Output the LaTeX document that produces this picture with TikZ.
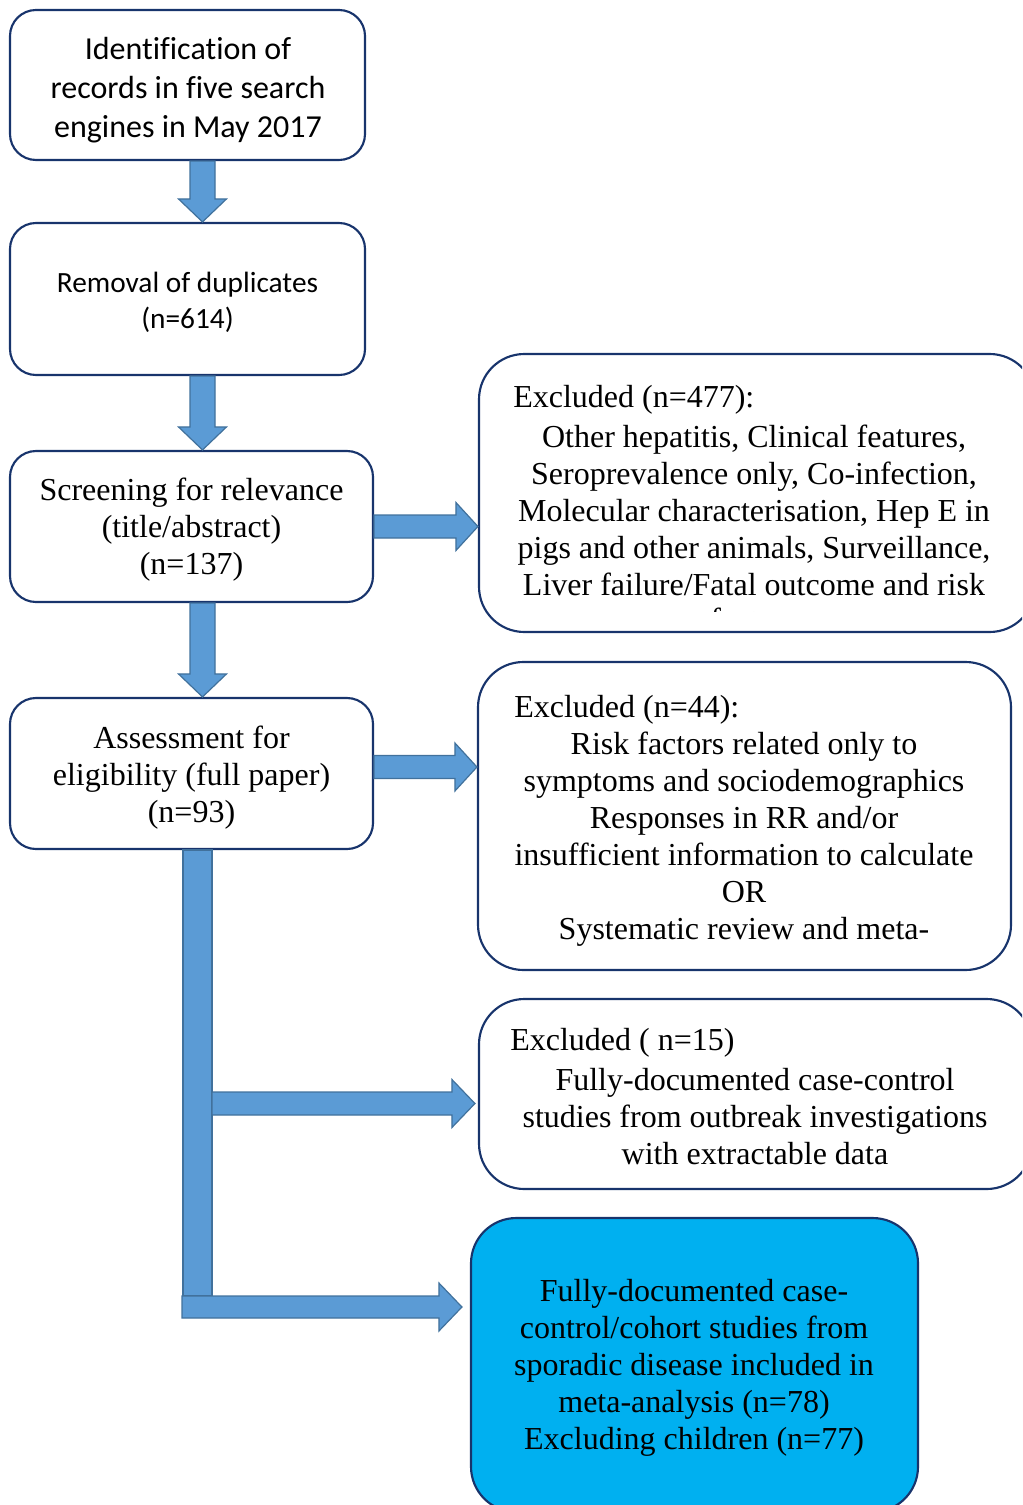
\documentclass[tikz,border=0pt]{standalone}
\usepackage{fontspec}
\setmainfont{Liberation Serif}
\newfontfamily\calfont[Ligatures=NoCommon]{Carlito}
\usetikzlibrary{calc}
\definecolor{navy}{RGB}{24,52,108}
\definecolor{arrowfill}{HTML}{5B9BD5}
\definecolor{arrowedge}{HTML}{41719C}
\definecolor{cyanfill}{HTML}{00B0F0}
\tikzset{
  box/.style={draw=navy, line width=1.6pt, fill=white, rounded corners=19.5pt, inner sep=0pt},
  bigbox/.style={box, rounded corners=34pt},
  blk/.style={fill=arrowfill, draw=arrowedge, line width=0.9pt, line join=miter},
  tnr/.style={font=\fontsize{24}{27.75}\selectfont, align=center, inner sep=0pt},
  cal/.style={font=\calfont\fontsize{24}{29.25}\selectfont, align=center, inner sep=0pt},
  calsmall/.style={font=\calfont\fontsize{22}{27}\selectfont, align=center, inner sep=0pt},
  lft/.style={font=\fontsize{24}{27.75}\selectfont, anchor=west, inner sep=0pt}
}
\newcommand\vblk[2]{%
  \filldraw[blk] ($(#1)+(-12.5,0)$) -- ($(#1)+(12.5,0)$) -- ($(#2)+(12.5,-23)$) -- ($(#2)+(24,-23)$) -- (#2) -- ($(#2)+(-24,-23)$) -- ($(#2)+(-12.5,-23)$) -- cycle;}
\newcommand\hblk[4]{%
  \filldraw[blk] ($(#1)+(0,-#3)$) -- ($(#2)+(-#4,-#3)$) -- ($(#2)+(-#4,-24)$) -- (#2) -- ($(#2)+(-#4,24)$) -- ($(#2)+(-#4,#3)$) -- ($(#1)+(0,#3)$) -- cycle;}
\begin{document}
\begin{tikzpicture}[x=0.75pt,y=-0.75pt]
\useasboundingbox (0,0) rectangle (1022,1505);
\clip (0,0) rectangle (1022,1505);

% left column boxes
\node[box, minimum width=266.25pt, minimum height=112.5pt] (b1) at (187.5,85) {};
\node[box, minimum width=266.25pt, minimum height=114pt] (b2) at (187.5,299) {};
\node[box, minimum width=272.25pt, minimum height=113.25pt] (b3) at (191.5,526.5) {};
\node[box, minimum width=272.25pt, minimum height=113.25pt] (b4) at (191.5,773.5) {};

% right column boxes
\node[bigbox, minimum width=417pt, minimum height=208.5pt] (A) at (757,493) {};
\node[bigbox, minimum width=399.75pt, minimum height=231pt] (B) at (744.5,816) {};
\node[bigbox, minimum width=414.75pt, minimum height=142.5pt] (C) at (755.5,1094) {};
\node[bigbox, fill=cyanfill, minimum width=335.25pt, minimum height=220.5pt] (D) at (694.5,1365) {};

% texts
\node[cal] (t1) at (188,90.5) {Identification of\\records in five search\\engines in May 2017};
\node[calsmall] (t2) at (187.5,302.5) {Removal of duplicates\\(n=614)};
\node[tnr] (t3) at (191.5,530) {Screening for relevance\\(title/abstract)\\(n=137)};
\node[tnr] (t4) at (191.5,778) {Assessment for\\eligibility (full paper)\\(n=93)};

\node[lft] (tAh) at (513,400) {Excluded (n=477):};
\node[tnr] (tA) at (754,510.5) {Other hepatitis, Clinical features,\\Seroprevalence only, Co-infection,\\Molecular characterisation, Hep E in\\pigs and other animals, Surveillance,\\Liver failure/Fatal outcome and risk};
\begin{scope}
  \clip (479,354) rectangle (1035,611);
  \node[tnr, anchor=base] (tAf) at (754,630) {factors};
\end{scope}

\node[lft] (tBh) at (514,710) {Excluded (n=44):};
\node[tnr] (tB) at (744,839) {Risk factors related only to\\symptoms and sociodemographics\\Responses in RR and/or\\insufficient information to calculate\\OR\\Systematic review and meta-};

\node[lft] (tCh) at (510,1043) {Excluded ( n=15)};
\node[tnr] (tC) at (755,1117) {Fully-documented case-control\\studies from outbreak investigations\\with extractable data};

\node[tnr] (tD) at (694,1368) {Fully-documented case-\\control/cohort studies from\\sporadic disease included in\\meta-analysis (n=78)\\Excluding children (n=77)};

% down arrows
\coordinate (a1s) at ($(b1.south)+(15,0)$);
\coordinate (a1t) at (a1s |- b2.north);
\vblk{a1s}{a1t}
\coordinate (a2s) at ($(b2.south)+(15,0)$);
\coordinate (a2t) at (a2s |- b3.north);
\vblk{a2s}{a2t}
\coordinate (a3s) at ($(b3.south)+(11,0)$);
\coordinate (a3t) at (a3s |- b4.north);
\vblk{a3s}{a3t}

% right arrows
\coordinate (r1s) at (b3.east);
\coordinate (r1t) at (r1s -| A.west);
\hblk{r1s}{r1t}{11.5}{22}
\coordinate (r2s) at ($(b4.east)+(0,-6.5)$);
\coordinate (r2t) at (r2s -| B.west);
\hblk{r2s}{r2t}{11.5}{22}

% L-shaped connector
\coordinate (barTop) at ($(b4.south)+(6,0)$);
\coordinate (r4t) at ($(D.west)+(-8,-58)$);
\coordinate (r3t) at ($(C.west)+(-3,9.5)$);
\filldraw[blk] ($(barTop)+(-14.5,0)$) rectangle ($(barTop |- r4t)+(14.5,-11)$);
\coordinate (r3s) at ($(barTop |- r3t)+(14.5,0)$);
\hblk{r3s}{r3t}{11.5}{23}
\coordinate (r4s) at ($(barTop |- r4t)+(-15.5,0)$);
\hblk{r4s}{r4t}{11}{23}
\end{tikzpicture}
\end{document}
